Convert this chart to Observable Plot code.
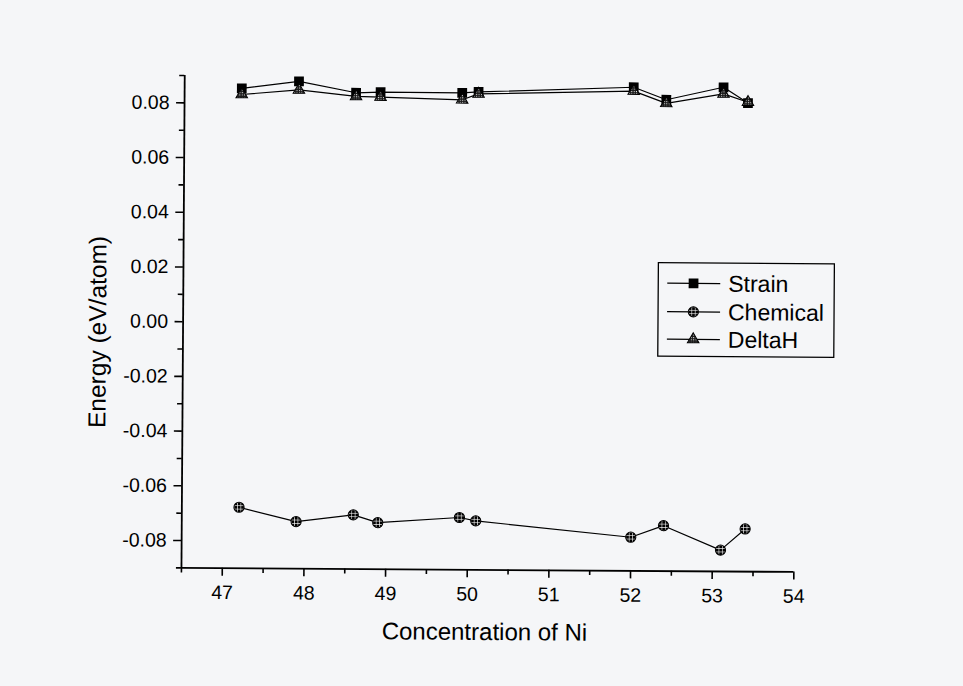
<!DOCTYPE html>
<html><head><meta charset="utf-8">
<script src="https://cdn.jsdelivr.net/npm/d3@7"></script>
<script src="https://cdn.jsdelivr.net/npm/@observablehq/plot@0.6"></script>
<style>
html,body{margin:0;padding:0;background:#f5f6f8;overflow:hidden;}
#wrap{width:963px;height:686px;position:relative;transform-origin:485px 321px;transform:rotate(0.38deg);}
</style></head><body>
<svg width="0" height="0" style="position:absolute">
<defs>
<pattern id="hatch" patternUnits="userSpaceOnUse" x="-2" y="-2" width="3.4" height="3.4">
 <rect width="3.4" height="3.4" fill="#000"/>
 <rect width="0.6" height="3.4" fill="#fff"/>
 <rect width="3.4" height="0.6" fill="#fff"/>
</pattern>
<pattern id="checker" patternUnits="userSpaceOnUse" width="2.4" height="2.4">
 <rect width="2.4" height="2.4" fill="#1a1a1a"/>
 <rect width="1" height="1" fill="#f0f0f0"/>
</pattern>
</defs></svg>
<div id="wrap"></div>
<script>
// ---- data ----
const conc     = [47.2, 47.9, 48.6, 48.9, 49.9, 50.1, 52.0, 52.4, 53.1, 53.4];
const strain   = [0.0854, 0.0881, 0.0841, 0.0844, 0.0843, 0.0847, 0.0868, 0.0823, 0.0870, 0.0813];
const chemical = [-0.0677, -0.0728, -0.0702, -0.0730, -0.0709, -0.0721, -0.0777, -0.0734, -0.0822, -0.0744];
const deltaH   = [0.0832, 0.0850, 0.0828, 0.0826, 0.0818, 0.0840, 0.0854, 0.0810, 0.0846, 0.0816];
const seriesNames = ["Strain", "Chemical", "DeltaH"];
const xTicks = [47, 48, 49, 50, 51, 52, 53, 54];
const xMinor = [46.5, 47.5, 48.5, 49.5, 50.5, 51.5, 52.5, 53.5];
const yTicks = [-0.08, -0.06, -0.04, -0.02, 0, 0.02, 0.04, 0.06, 0.08];
const yMinor = [-0.09, -0.07, -0.05, -0.03, -0.01, 0.01, 0.03, 0.05, 0.07, 0.09];
const xTitle = "Concentration of Ni";
const yTitle = "Energy (eV/atom)";

const rows = (vals) => conc.map((c, i) => ({x: c, y: vals[i]}));
const dStrain = rows(strain), dChem = rows(chemical), dDelta = rows(deltaH);

const roundSym = {draw(ctx, size) { const r = Math.sqrt(size / Math.PI); ctx.moveTo(r, 0); ctx.arc(0, 0, r, 0, 2 * Math.PI); }};
const sq = {r: 5.5}, ci = {r: 5.1}, tr = {r: 4.3};

const font = "'Liberation Sans', Arial, Helvetica, sans-serif";
const chart = Plot.plot({
  width: 963, height: 686,
  marginLeft: 182.6, marginRight: 168, marginTop: 77, marginBottom: 116.6,
  x: {domain: [46.5, 54]},
  y: {domain: [-0.09, 0.09]},
  style: {fontFamily: font, fontSize: "19.5px", background: "transparent", color: "#000"},
  marks: [
    Plot.axisX({ticks: xTicks, tickSize: 8, tickPadding: 9, strokeWidth: 1.6, label: null, tickFormat: d => String(d)}),
    Plot.axisX({ticks: xMinor, tickSize: 5, strokeWidth: 1.6, label: null, tickFormat: () => ""}),
    Plot.axisY({ticks: yTicks, tickSize: 8, tickPadding: 7, strokeWidth: 1.6, label: null, tickFormat: d => d.toFixed(2)}),
    Plot.axisY({ticks: yMinor, tickSize: 5, strokeWidth: 1.6, label: null, tickFormat: () => ""}),
    Plot.ruleX([46.5], {stroke: "#000", strokeWidth: 1.8}),
    Plot.ruleY([-0.09], {stroke: "#000", strokeWidth: 1.8}),
    Plot.line(dStrain, {x: "x", y: "y", stroke: "#000", strokeWidth: 1.2}),
    Plot.line(dChem, {x: "x", y: "y", stroke: "#000", strokeWidth: 1.2}),
    Plot.line(dDelta, {x: "x", y: "y", stroke: "#000", strokeWidth: 1.2}),
    Plot.dot(dStrain, {x: "x", y: "y", symbol: "square", r: sq.r, fill: "#000", stroke: "none"}),
    Plot.dot(dChem, {x: "x", y: "y", symbol: roundSym, r: ci.r, fill: "url(#hatch)", stroke: "#000", strokeWidth: 1}),
    Plot.dot(dDelta, {x: "x", y: "y", symbol: "triangle", r: tr.r, fill: "url(#checker)", stroke: "#000", strokeWidth: 1})
  ]
});
document.getElementById("wrap").appendChild(chart);

// ---- tick label size (set on every Plot-made text) ----
const svg = d3.select(chart);
svg.selectAll("text").style("font-size", "19.5px").style("font-family", font);
svg.selectAll("g").filter(function() { return this.getAttribute("font-size") !== null; })
  .attr("font-size", "19.5");

// ---- titles and legend ----
svg.append("text").attr("x", 486.5).attr("y", 640).attr("text-anchor", "middle")
  .attr("font-family", font).style("font-size", "24px").attr("fill", "#000").text(xTitle);
svg.append("text").attr("transform", "translate(106,334.5) rotate(-90)").attr("text-anchor", "middle")
  .attr("font-family", font).style("font-size", "24.5px").attr("fill", "#000").text(yTitle);

const lg = svg.append("g").attr("text-anchor", "start");
lg.append("rect").attr("x", 658).attr("y", 261.5).attr("width", 176).attr("height", 93.5)
  .attr("fill", "none").attr("stroke", "#000").attr("stroke-width", 1.3);
const legendRows = [
  {name: seriesNames[0], y: 282, sym: d3.symbolSquare, r: sq.r, fill: "#000", stroke: "none"},
  {name: seriesNames[1], y: 310.5, sym: roundSym, r: ci.r, fill: "url(#hatch)", stroke: "#000"},
  {name: seriesNames[2], y: 338, sym: d3.symbolTriangle, r: tr.r, fill: "url(#checker)", stroke: "#000"}
];
legendRows.forEach(row => {
  lg.append("line").attr("x1", 667).attr("x2", 720).attr("y1", row.y).attr("y2", row.y)
    .attr("stroke", "#000").attr("stroke-width", 1.2);
  lg.append("path").attr("transform", `translate(693.3,${row.y})`)
    .attr("d", d3.symbol(row.sym, Math.PI * row.r * row.r)())
    .attr("fill", row.fill).attr("stroke", row.stroke).attr("stroke-width", 1);
  lg.append("text").attr("x", 728).attr("y", row.y).attr("dy", "0.35em").attr("text-anchor", "start")
    .attr("font-family", font).style("font-size", "23px").attr("fill", "#000").text(row.name);
});
</script>
</body></html>
